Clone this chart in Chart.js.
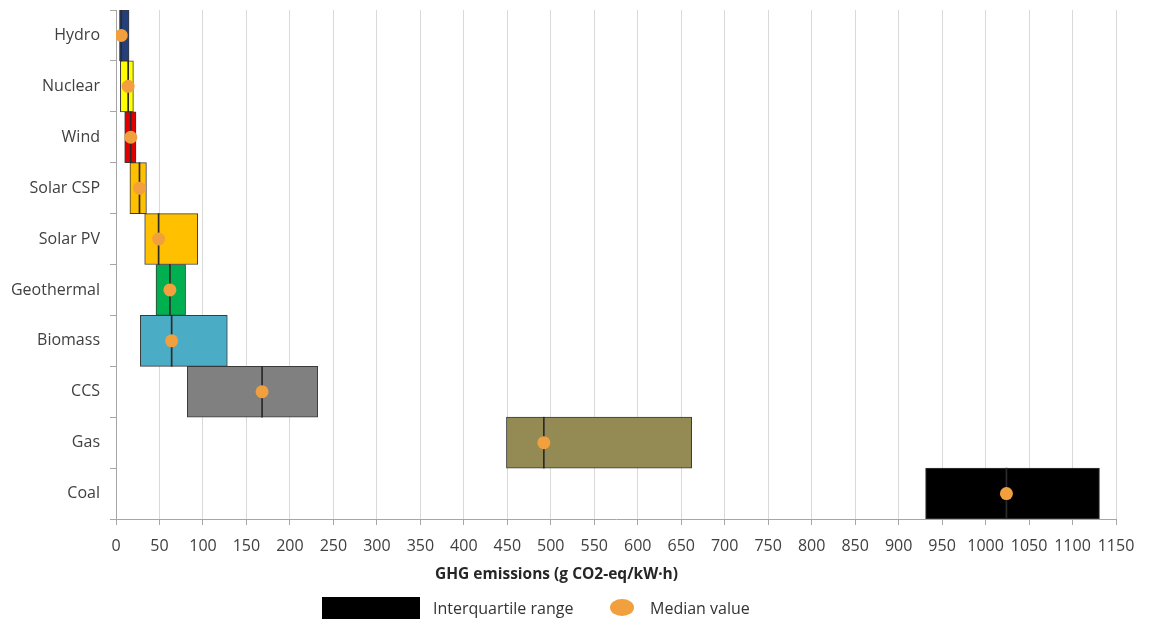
<!DOCTYPE html>
<html>
<head>
<meta charset="utf-8">
<script src="https://cdn.jsdelivr.net/npm/chart.js@4/dist/chart.umd.min.js"></script>
<style>
  html, body { margin: 0; padding: 0; background: #fff; }
  #wrap { position: relative; width: 1151px; height: 625px; font-family: "Open Sans", sans-serif; color: #262626; }
  #axis-title { position: absolute; left: 435px; top: 562px; font-size: 15.5px; font-weight: bold; white-space: nowrap; }
  .lg-box { position: absolute; left: 322px; top: 597px; width: 98px; height: 22px; background: #000; }
  .lg-dot { position: absolute; left: 610px; top: 599px; width: 24px; height: 17px; border-radius: 50%; background: #F2A03D; }
  .lg-text { position: absolute; top: 597px; font-size: 16px; white-space: nowrap; color: #333; }
</style>
</head>
<body>
<div id="wrap">
  <canvas id="chart" width="1151" height="625"></canvas>
  <div id="axis-title">GHG emissions (g CO2-eq/kW·h)</div>
  <div class="lg-box"></div>
  <div class="lg-text" style="left:433px">Interquartile range</div>
  <div class="lg-dot"></div>
  <div class="lg-text" style="left:650px">Median value</div>
</div>
<script>
// технологии и межквартильный размах (г CO2-экв/кВт·ч)
const categories = ['Hydro', 'Nuclear', 'Wind', 'Solar CSP', 'Solar PV', 'Geothermal', 'Biomass', 'CCS', 'Gas', 'Coal'];
const lowerQuartile = [4, 5, 10, 16, 33, 46, 28, 82, 449, 931];
const upperQuartile = [15, 20, 23, 35, 94, 80, 128, 232, 662, 1131];
const medians = [6, 14, 17, 27, 49, 62, 64, 168, 492, 1024];
const boxColors = ['#243F7A', '#FFFF00', '#E00000', '#FFC000', '#FFC000', '#00B050', '#4BACC6', '#808080', '#948A54', '#000000'];

// полуширина линии медианы в единицах оси
const medianHalfWidth = 0.6;

const ctx = document.getElementById('chart');

new Chart(ctx, {
  type: 'bar',
  data: {
    labels: categories,
    datasets: [
      {
        label: 'Interquartile range',
        data: categories.map((c, i) => [lowerQuartile[i], upperQuartile[i]]),
        backgroundColor: boxColors,
        borderColor: '#3a3a3a',
        borderWidth: 1,
        borderSkipped: false,
        barPercentage: 1,
        categoryPercentage: 1,
        grouped: false,
        order: 3
      },
      {
        // вертикальная линия медианы внутри прямоугольника
        label: 'Median line',
        data: categories.map((c, i) => [medians[i] - medianHalfWidth, medians[i] + medianHalfWidth]),
        backgroundColor: '#2b2b2b',
        borderWidth: 0,
        barPercentage: 1,
        categoryPercentage: 1,
        grouped: false,
        order: 2
      },
      {
        label: 'Median value',
        type: 'scatter',
        data: categories.map((c, i) => ({ x: medians[i], y: c })),
        pointStyle: 'circle',
        radius: 6.5,
        hoverRadius: 6.5,
        backgroundColor: '#F2A03D',
        borderColor: '#F2A03D',
        borderWidth: 0,
        order: 1
      }
    ]
  },
  options: {
    responsive: false,
    animation: false,
    indexAxis: 'y',
    layout: { padding: { top: 10, right: 35, left: 0, bottom: 0 } },
    scales: {
      x: {
        type: 'linear',
        min: 0,
        max: 1150,
        ticks: {
          stepSize: 50,
          autoSkip: false,
          maxRotation: 0,
          font: { family: 'Open Sans', size: 16 },
          color: '#404040',
          padding: 12,
          callback: (value) => String(value)
        },
        grid: {
          color: '#d9d9d9',
          lineWidth: 1,
          tickLength: 6,
          tickColor: '#a6a6a6'
        },
        border: { color: '#a6a6a6', width: 1 },
        afterFit: (scale) => { scale.height = 106; }
      },
      y: {
        type: 'category',
        offset: true,
        ticks: {
          font: { family: 'Open Sans', size: 16 },
          color: '#404040',
          padding: 10
        },
        grid: {
          offset: true,
          drawOnChartArea: false,
          tickLength: 6,
          tickColor: '#a6a6a6'
        },
        border: { color: '#a6a6a6', width: 1 },
        afterFit: (scale) => {
          scale.width = 116;
          // убираем автоматический отступ сверху/снизу от подписей
          scale.paddingTop = 0;
          scale.paddingBottom = 0;
        }
      }
    },
    plugins: {
      legend: { display: false },
      tooltip: { enabled: false }
    }
  }
});
</script>
</body>
</html>
